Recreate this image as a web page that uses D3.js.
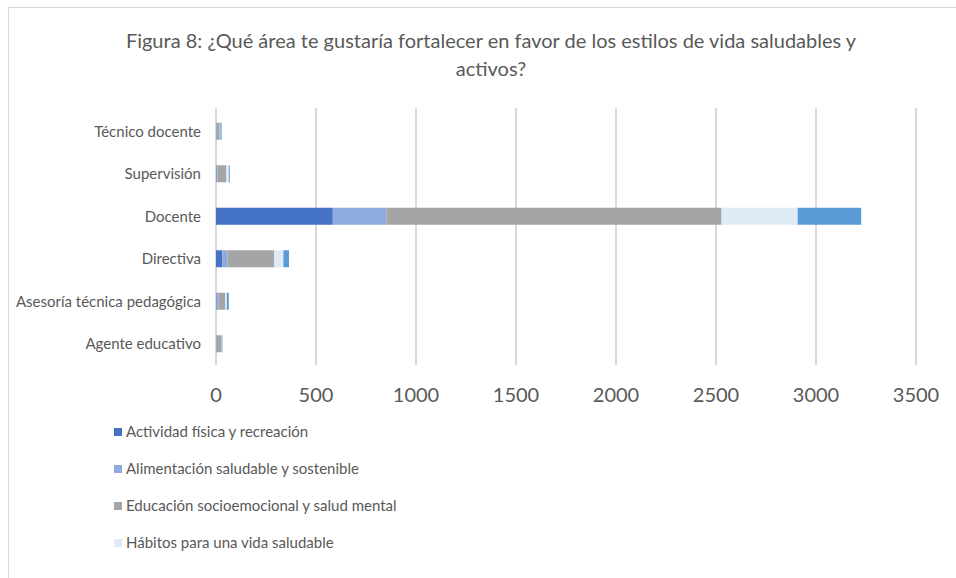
<!DOCTYPE html>
<html>
<head>
<meta charset="utf-8">
<script src="https://cdn.jsdelivr.net/npm/d3@7"></script>
<style>
  body { margin: 0; background: #fff; }
  text { font-family: Lato, "Open Sans", sans-serif; fill: #595959; }
</style>
</head>
<body>
<div class="canvas"></div>
<script>
// categories (top to bottom) and the series stacked in each bar
const categories = ['Técnico docente', 'Supervisión', 'Docente', 'Directiva', 'Asesoría técnica pedagógica', 'Agente educativo'];
const seriesNames = ['Actividad física y recreación', 'Alimentación saludable y sostenible', 'Educación socioemocional y salud mental', 'Hábitos para una vida saludable', 'Otro'];
const actividad    = [2, 3, 584, 32, 3, 2];
const alimentacion = [2, 4, 268, 26, 10, 2];
const educacion    = [15, 45, 1676, 232, 33, 25];
const habitos      = [3, 12, 380, 47, 8, 2];
const otro         = [6, 5, 318, 28, 10, 2];
const ticks = [0, 500, 1000, 1500, 2000, 2500, 3000, 3500];
const colors = ['#4472C4', '#8FAADC', '#A5A5A5', '#DEEBF7', '#5B9BD5'];

const dims = { width: 956, height: 578 };
const plot = { left: 216, right: 916, top: 110, bottom: 365 };

const svg = d3.select('.canvas').append('svg')
  .attr('width', dims.width)
  .attr('height', dims.height);

// chart frame (runs past the bottom/right of the picture)
svg.append('rect')
  .attr('x', 8.5).attr('y', 7.5)
  .attr('width', 960).attr('height', 600)
  .attr('fill', '#fff')
  .attr('stroke', '#D9D9D9');

// title
const title = svg.append('text')
  .attr('text-anchor', 'middle')
  .style('font-size', '20px');
title.append('tspan').attr('x', 491).attr('y', 48)
  .text('Figura 8: ¿Qué área te gustaría fortalecer en favor de los estilos de vida saludables y');
title.append('tspan').attr('x', 491).attr('y', 76).text('activos?');

// build rows for the stack
const columns = [actividad, alimentacion, educacion, habitos, otro];
const rows = categories.map((c, i) => {
  const r = { cat: c };
  seriesNames.forEach((s, j) => r[s] = columns[j][i]);
  return r;
});
const stacked = d3.stack().keys(seriesNames)(rows);

const x = d3.scaleLinear().domain([0, 3500]).range([plot.left, plot.right]);
const y = d3.scaleBand().domain(categories).range([plot.top, plot.bottom]).paddingInner(0.6).paddingOuter(0.3);
const color = d3.scaleOrdinal().domain(seriesNames).range(colors);

// gridlines
svg.append('g').selectAll('line')
  .data(ticks)
  .join('line')
  .attr('x1', d => x(d)).attr('x2', d => x(d))
  .attr('y1', plot.top - 2).attr('y2', plot.bottom)
  .attr('stroke', '#D9D9D9')
  .attr('stroke-width', 2);

// bars
svg.append('g').selectAll('g')
  .data(stacked)
  .join('g')
  .attr('fill', d => color(d.key))
  .selectAll('rect')
  .data(d => d)
  .join('rect')
  .attr('x', d => x(d[0]))
  .attr('width', d => x(d[1]) - x(d[0]))
  .attr('y', d => y(d.data.cat))
  .attr('height', y.bandwidth());

// category labels
svg.append('g').selectAll('text')
  .data(categories)
  .join('text')
  .attr('x', 201)
  .attr('y', d => y(d) + y.bandwidth() / 2)
  .attr('dy', '0.35em')
  .attr('text-anchor', 'end')
  .style('font-size', '15px')
  .text(d => d);

// x tick labels
svg.append('g').selectAll('text')
  .data(ticks)
  .join('text')
  .attr('x', d => x(d))
  .attr('y', 402)
  .attr('text-anchor', 'middle')
  .style('font-size', '20px')
  .text(d => d);

// legend (vertical list under the plot) - the 5th entry falls below the frame, so only the visible ones
const legend = svg.append('g').selectAll('g')
  .data(seriesNames.slice(0, 4))
  .join('g')
  .attr('transform', (d, i) => `translate(114, ${432 + i * 37})`);
legend.append('rect')
  .attr('x', 0).attr('y', -4)
  .attr('width', 8).attr('height', 8)
  .attr('fill', d => color(d));
legend.append('text')
  .attr('x', 12).attr('dy', '0.35em')
  .style('font-size', '15px')
  .text(d => d);
</script>
</body>
</html>
